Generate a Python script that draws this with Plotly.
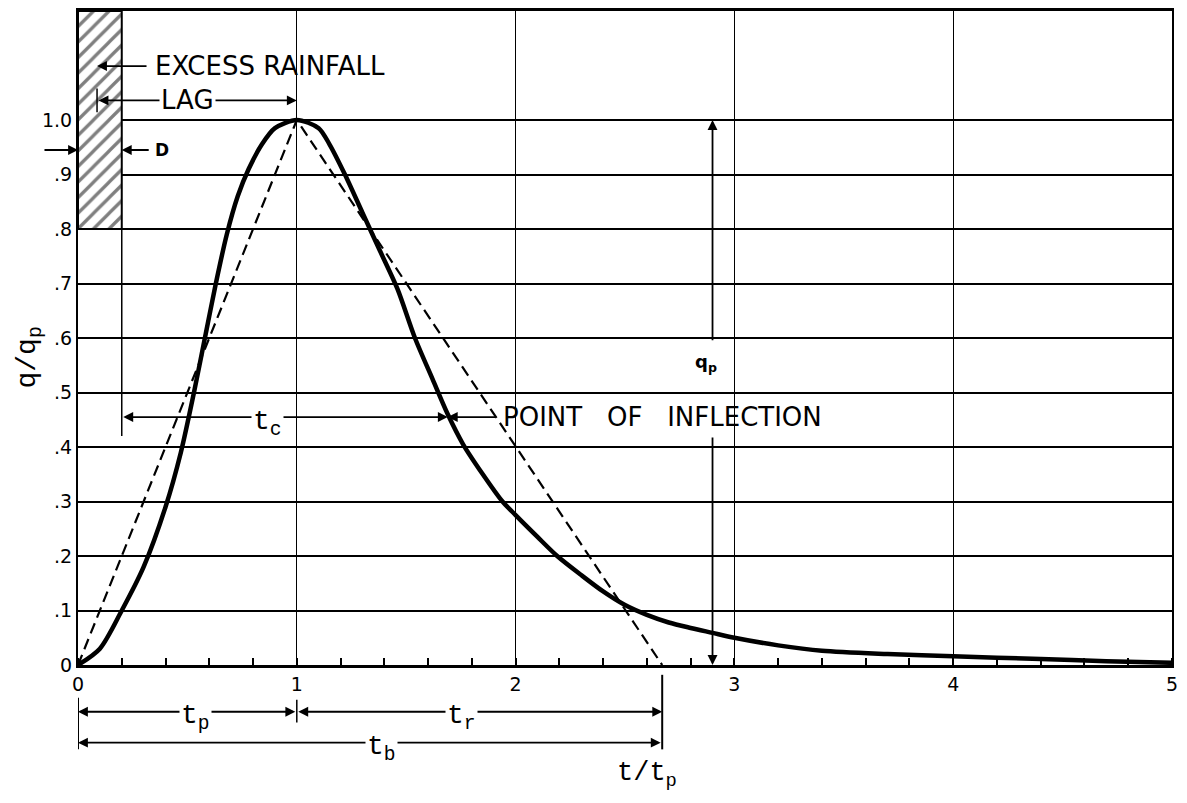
import plotly.graph_objects as go

# Dimensionless unit hydrograph
t_curve = [0, 0.1, 0.2, 0.3, 0.4, 0.47, 0.53, 0.58, 0.63, 0.68, 0.73, 0.78, 0.84, 0.9,
           1.0, 1.1, 1.15, 1.22, 1.3, 1.38, 1.46, 1.54, 1.62, 1.69, 1.76, 1.85, 1.94,
           2.0, 2.1, 2.19, 2.3, 2.4, 2.5, 2.6, 2.7, 2.8, 2.9, 3.0, 3.2, 3.4, 3.7, 4.0,
           4.4, 4.7, 5.0]
q_curve = [0, 0.03, 0.1, 0.18, 0.29, 0.39, 0.5, 0.6, 0.7, 0.79, 0.86, 0.91, 0.955, 0.985,
           1.0, 0.985, 0.955, 0.9, 0.83, 0.76, 0.69, 0.6, 0.525, 0.46, 0.405, 0.35, 0.3,
           0.275, 0.235, 0.2, 0.165, 0.135, 0.11, 0.092, 0.078, 0.068, 0.059, 0.05, 0.036,
           0.026, 0.02, 0.016, 0.011, 0.007, 0.004]

# Triangular hydrograph
t_tri = [0, 1.0, 2.67]
q_tri = [0, 1.0, 0]

# Excess rainfall block
rain_t = [0, 0.2, 0.2, 0, 0]
rain_q = [0.8, 0.8, 1.2, 1.2, 0.8]

x_ticks = [0, 1, 2, 3, 4, 5]
x_ticktext = ["0", "1", "2", "3", "4", "5"]
y_ticks = [0, 0.1, 0.2, 0.3, 0.4, 0.5, 0.6, 0.7, 0.8, 0.9, 1.0]
y_ticktext = ["0", ".1", ".2", ".3", ".4", ".5", ".6", ".7", ".8", ".9", "1.0"]

t_peak = 1.0
t_base = 2.67
t_inflect = 1.69
t_rain_end = 0.2
t_qp = 2.9

SANS = "DejaVu Sans"
MONO = "Liberation Mono"

fig = go.Figure()

fig.add_trace(go.Scatter(
    x=rain_t, y=rain_q, mode="lines", fill="toself",
    fillcolor="white",
    fillpattern=dict(shape="/", fgcolor="black", bgcolor="white", size=11, solidity=0.3),
    line=dict(color="black", width=2), hoverinfo="skip", showlegend=False))

fig.add_trace(go.Scatter(
    x=t_tri, y=q_tri, mode="lines",
    line=dict(color="black", width=2.2, dash="11px,6px"), showlegend=False))

fig.add_trace(go.Scatter(
    x=t_curve, y=q_curve, mode="lines", line_shape="spline", line_smoothing=0.8,
    line=dict(color="black", width=4.5), showlegend=False))

shapes = []
ann = []

def arrow(x_head, y_head, x_tail, y_tail=None, yref="y", both=False):
    d = dict(x=x_head, y=y_head, xref="x", yref=yref, text="", showarrow=True,
             ax=x_tail, axref="x", arrowhead=2, arrowsize=1.1, arrowwidth=1.8,
             arrowcolor="black", standoff=0, startstandoff=0)
    if yref == "y":
        d.update(ay=y_tail if y_tail is not None else y_head, ayref="y")
    else:
        d.update(ay=0, ayref="pixel")
    if both:
        d.update(arrowside="end+start", startarrowhead=2, startarrowsize=1.1)
    ann.append(d)

def vline(x, y0, y1, yref="y", width=1.5):
    shapes.append(dict(type="line", xref="x", yref=yref, x0=x, x1=x, y0=y0, y1=y1,
                       line=dict(color="black", width=width)))

def text(x, y, s, size=22, font=SANS, xanchor="center", yanchor="middle", yref="y",
         bg=None, yshift=0):
    d = dict(x=x, y=y, xref="x", yref=yref, text=s, showarrow=False, xanchor=xanchor,
             yanchor=yanchor, yshift=yshift,
             font=dict(family=font, size=size, color="black"))
    if bg:
        d.update(bgcolor=bg)
    ann.append(d)

# Excess rainfall / lag / D
arrow(0.087, 1.099, 0.32)
text(0.343, 1.099, "EXCESS RAINFALL", size=26, xanchor="left")
vline(0.087, 1.014, 1.058)
arrow(t_peak, 1.036, 0.087, both=True)
text(0.50, 1.036, "LAG", size=26, bg="white")
ann.append(dict(x=0, y=0.945, xref="x", yref="y", text="", showarrow=True,
                ax=-0.16, axref="x", ay=0.945, ayref="y", arrowhead=2, arrowsize=1.1,
                arrowwidth=1.8, arrowcolor="black", standoff=0))
arrow(t_rain_end, 0.945, 0.33)
text(0.385, 0.945, "<b>D</b>", size=17)

# tc and point of inflection
vline(t_rain_end, 0.42, 0.8)
arrow(t_inflect, 0.455, t_rain_end, both=True)
text(0.865, 0.455, "t<sub>c</sub>", size=28, font=MONO, bg="white", yshift=-6)
arrow(t_inflect, 0.455, 1.915)
text(1.935, 0.455, "POINT&nbsp;&nbsp; OF&nbsp;&nbsp; INFLECTION", size=26, xanchor="left")

# qp
arrow(t_qp, 1.0, t_qp, 0.593)
arrow(t_qp, 0.0, t_qp, 0.42)
text(2.87, 0.555, "<b>q<sub>p</sub></b>", size=18)

# bottom dimension lines
vline(0, -0.05, -0.129, yref="paper", width=2)
vline(t_base, -0.015, -0.129, yref="paper", width=2)
vline(t_peak, -0.053, -0.088, yref="paper", width=1.5)
arrow(0, -0.0715, t_peak, yref="paper", both=True)
arrow(t_base, -0.0715, t_peak, yref="paper", both=True)
arrow(0, -0.1187, t_base, yref="paper", both=True)
text(0.535, -0.0715, "t<sub>p</sub>", size=28, font=MONO, yref="paper", bg="white", yshift=-6)
text(1.755, -0.0715, "t<sub>r</sub>", size=28, font=MONO, yref="paper", bg="white", yshift=-6)
text(1.385, -0.1187, "t<sub>b</sub>", size=28, font=MONO, yref="paper", bg="white", yshift=-6)
text(2.6, -0.168, "t/t<sub>p</sub>", size=27, font=MONO, yref="paper")

# y-axis title
ann.append(dict(x=-0.044, y=0.47, xref="paper", yref="paper", text="q/q<sub>p</sub>",
                showarrow=False, textangle=-90, xanchor="center", yanchor="middle",
                font=dict(family=MONO, size=28, color="black")))

fig.update_layout(
    width=1171, height=787,
    margin=dict(l=70, r=7, t=0, b=130),
    paper_bgcolor="white", plot_bgcolor="white",
    showlegend=False,
    shapes=shapes, annotations=ann,
    xaxis=dict(range=[0, 5], tickvals=x_ticks, ticktext=x_ticktext,
               showgrid=True, gridcolor="black", gridwidth=1.3,
               showline=True, linecolor="black", linewidth=2.5, mirror=True,
               ticks="", zeroline=False,
               minor=dict(dtick=0.2, ticks="inside", ticklen=7, tickcolor="black",
                          tickwidth=1.5, showgrid=False),
               tickfont=dict(family=SANS, size=19, color="black")),
    yaxis=dict(range=[0, 1.2], tickvals=y_ticks, ticktext=y_ticktext,
               showgrid=True, gridcolor="black", gridwidth=2,
               showline=True, linecolor="black", linewidth=2, mirror=True,
               ticks="", zeroline=False,
               tickfont=dict(family=SANS, size=19, color="black")),
)

fig.write_html("out.html")
